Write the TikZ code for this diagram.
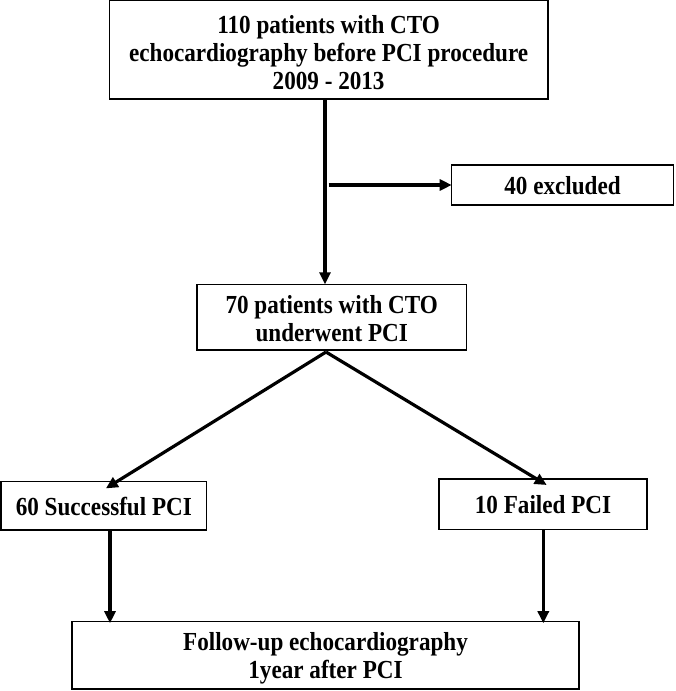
\documentclass[tikz,border=0pt]{standalone}
\usepackage{fontspec}
\setmainfont{Liberation Serif}[FakeStretch=0.89]
\usetikzlibrary{arrows.meta}
\begin{document}
\begin{tikzpicture}[x=1pt,y=-1pt,
  box/.style={draw=black,line width=1.3pt,rectangle,inner sep=0pt,outer sep=0pt},
  txt/.style={inner sep=0pt,align=center,font=\fontsize{26pt}{28pt}\selectfont\bfseries},
  arr/.style={line width=3.2pt,-{Triangle[length=12pt,width=11pt]}}]
\useasboundingbox (0,0) rectangle (675,691);
\node[box,minimum width=438.7pt,minimum height=98.3pt] (top) at (328.65,49.85) {};
\node[txt] (toptext) at ([yshift=-2.5pt]top.center)
  {110 patients with CTO\\echocardiography before PCI procedure\\2009 - 2013};
\node[box,minimum width=221.6pt,minimum height=40pt] (excl) at (562.5,185) {};
\node[txt] (excltext) at ([yshift=-0.5pt]excl.center) {40 excluded};
\node[box,minimum width=269.5pt,minimum height=65.7pt] (mid) at (331.75,317.15) {};
\node[txt] (midtext) at ([yshift=-1pt]mid.center) {70 patients with CTO\\underwent PCI};
\node[box,minimum width=205.7pt,minimum height=48.3pt] (left) at (103.85,505.85) {};
\node[txt] (lefttext) at ([yshift=-0.5pt]left.center) {60 Successful PCI};
\node[box,minimum width=208pt,minimum height=50.3pt] (right) at (543,504.15) {};
\node[txt] (righttext) at ([yshift=-0.5pt]right.center) {10 Failed PCI};
\node[box,minimum width=507pt,minimum height=67.3pt] (bottom) at (325.5,655.35) {};
\node[txt] (bottomtext) at ([yshift=-3pt]bottom.center) {Follow-up echocardiography\\1year after PCI};
\coordinate (j) at (325,185);
\coordinate (d) at (326,352);
\coordinate (lx) at (110,0);
\coordinate (rx) at (543.3,0);
\draw[line width=3.2pt] (top.south -| j) -- (j);
\draw[arr] (j) -- (mid.north -| j);
\draw[arr] ([xshift=3.5pt]j) -- (excl.west);
\draw[arr] (d) -- ([xshift=2pt,yshift=-6.7pt]left.north);
\draw[arr] (d) -- ([xshift=3.7pt,yshift=-6pt]right.north);
\draw[arr] (left.south -| lx) -- ([yshift=-1.5pt]bottom.north -| lx);
\draw[arr] (right.south -| rx) -- ([yshift=-1.5pt]bottom.north -| rx);
\end{tikzpicture}
\end{document}
